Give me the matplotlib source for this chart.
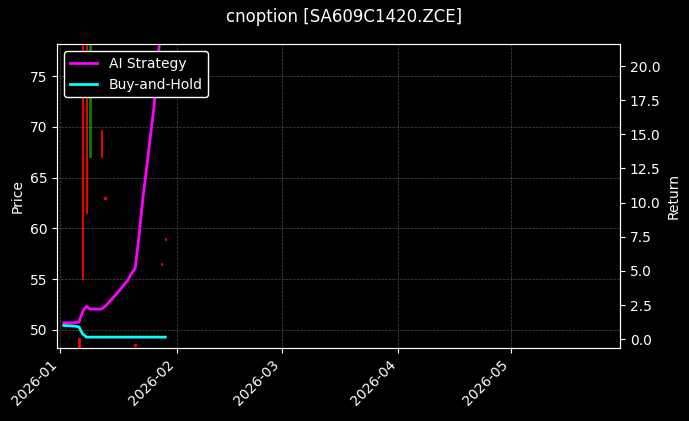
import matplotlib
matplotlib.use("Agg")
import matplotlib.pyplot as plt
import matplotlib.dates as mdates
import pandas as pd

dates = pd.to_datetime(["2026-01-02","2026-01-05","2026-01-06","2026-01-07","2026-01-08","2026-01-09",
    "2026-01-12","2026-01-13","2026-01-14","2026-01-15","2026-01-16","2026-01-19","2026-01-20",
    "2026-01-21","2026-01-22","2026-01-23","2026-01-26","2026-01-27","2026-01-28","2026-01-29"])
ai = [1.2,1.2,1.25,2.0,2.4,2.2,2.2,2.4,2.7,3.0,3.3,4.3,4.8,5.2,7.5,10.2,17.0,20.5,23.0,25.0]
bh = [1.0,0.95,0.9,0.4,0.15,0.15,0.15,0.15,0.15,0.15,0.15,0.15,0.15,0.15,0.15,0.15,0.15,0.15,0.15,0.15]

c_dates = pd.to_datetime(["2026-01-06","2026-01-07","2026-01-08","2026-01-09","2026-01-12",
    "2026-01-13","2026-01-21","2026-01-28","2026-01-29"])
c_open = [49.2,80,80,67,69.7,63.1,48.6,56.6,59.1]
c_close = [47.5,55,61.5,80,67,62.9,48.4,56.4,58.9]

plt.style.use("dark_background")
fig, ax = plt.subplots(figsize=(6.89,4.21), dpi=100)
fig.patch.set_facecolor("black"); ax.set_facecolor("black")
for d,o,c in zip(c_dates,c_open,c_close):
    col = "green" if c>=o else "red"
    ax.bar(d, abs(c-o), bottom=min(o,c), width=0.4, color=col, edgecolor=col, linewidth=0.6)
ax.set_ylim(48.2,78.15)
ax.set_ylabel("Price")
ax.grid(True, color="gray", linestyle="--", linewidth=0.5, alpha=0.6)
ax2 = ax.twinx()
l1, = ax2.plot(dates, ai, color="magenta", lw=2, label="AI Strategy")
l2, = ax2.plot(dates, bh, color="cyan", lw=2, label="Buy-and-Hold")
ax2.set_ylim(-0.66,21.6)
ax2.set_ylabel("Return")
ax.set_xlim(pd.Timestamp("2025-12-31 06:00"), pd.Timestamp("2026-05-30"))
ax.xaxis.set_major_locator(mdates.MonthLocator())
ax.xaxis.set_major_formatter(mdates.DateFormatter("%Y-%m"))
plt.setp(ax.get_xticklabels(), rotation=45, ha="right")
leg = ax2.legend(handles=[l1,l2], loc="upper left", facecolor="black", edgecolor="white", framealpha=1)
fig.suptitle("cnoption [SA609C1420.ZCE]")
fig.subplots_adjust(left=0.083, right=0.9, top=0.895, bottom=0.173)
fig.savefig("out.png", dpi=100, facecolor="black")
